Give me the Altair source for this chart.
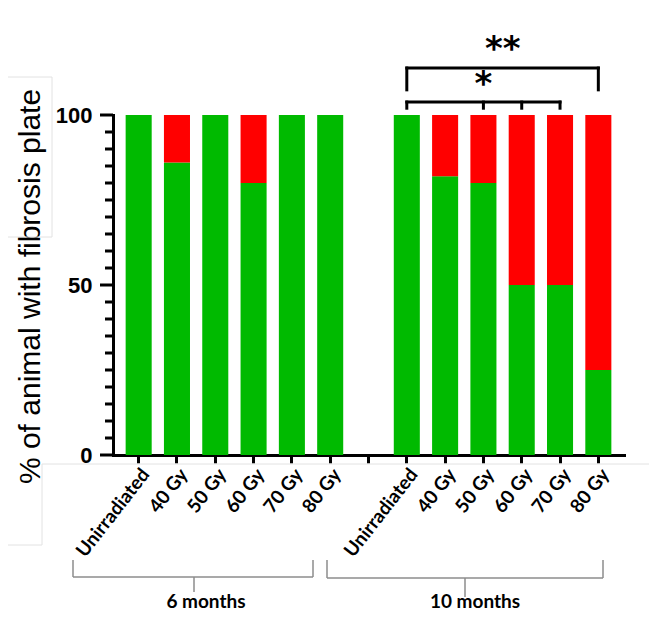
import altair as alt
import pandas as pd

# ---------------- data ----------------
doses = ["Unirradiated", "40 Gy", "50 Gy", "60 Gy", "70 Gy", "80 Gy"]
group_labels = ["6 months", "10 months"]
green_6m = [100, 86, 100, 80, 100, 100]     # % without fibrosis plate (green)
green_10m = [100, 82, 80, 50, 50, 25]
y_major = [0, 50, 100]
y_minor = [5, 10, 15, 20, 25, 30, 35, 40, 45, 55, 60, 65, 70, 75, 80, 85, 90, 95]

GREEN = "#00BA00"
RED = "#FF0000"

keys6 = ["6|" + d for d in doses]
keys10 = ["10|" + d for d in doses]
domain = keys6 + ["gap"] + keys10

rows = []
for k, g in zip(keys6 + keys10, green_6m + green_10m):
    rows.append({"key": k, "status": "no plate", "pct": g, "ord": 0})
    rows.append({"key": k, "status": "plate", "pct": 100 - g, "ord": 1})
df = pd.DataFrame(rows)

xscale = alt.Scale(domain=domain, paddingInner=0.32, paddingOuter=0.33)
yscale = alt.Scale(domain=[0, 100], nice=False, zero=True)

label_expr = "indexof(datum.value, '|') > 0 ? split(datum.value, '|')[1] : ''"

xaxis = alt.Axis(title=None, labelExpr=label_expr, labelAngle=-52,
                 labelAlign="right", labelBaseline="top",
                 labelFont="Lato", labelFontWeight="bold", labelFontSize=19,
                 labelColor="black", labelPadding=2, labelOverlap=False,
                 labelBound=False, labelFlush=False,
                 tickSize=8, tickWidth=3, tickColor="black",
                 domainWidth=3, domainColor="black", domainCap="square")
yaxis = alt.Axis(title="% of animal with fibrosis plate", values=y_major,
                 labelOverlap=False, grid=False, ticks=False,
                 domainWidth=3, domainColor="black", domainCap="square",
                 labelFont="Liberation Sans", labelFontWeight="bold",
                 labelFontSize=22, labelColor="black", labelPadding=21,
                 titleFont="Liberation Sans", titleFontWeight="normal",
                 titleFontSize=30, titleColor="black",
                 titleX=-83, titleY=171, titleAngle=-90,
                 titleAlign="center", titleBaseline="middle")

bars = alt.Chart(df).mark_bar().encode(
    x=alt.X("key:N", scale=xscale, sort=domain, axis=xaxis),
    y=alt.Y("pct:Q", stack="zero", scale=yscale, axis=yaxis),
    color=alt.Color("status:N", scale=alt.Scale(domain=["no plate", "plate"], range=[GREEN, RED]),
                    legend=None),
    order=alt.Order("ord:Q"),
)

# y ticks: major (long) and minor (short), one layer
tick_df = pd.DataFrame(
    [{"v": v, "x0": -13, "x1": 0} for v in y_major] +
    [{"v": v, "x0": -8, "x1": 0} for v in y_minor]
)
yticks = alt.Chart(tick_df).mark_rule(color="black", strokeWidth=3).encode(
    y=alt.Y("v:Q", scale=yscale, axis=yaxis),
    x=alt.X("x0:Q", scale=None), x2="x1",
)

# significance brackets
br = pd.DataFrame([
    {"x": "10|Unirradiated", "x2": "10|70 Gy", "y": 103.8, "y2": 103.8},
    {"x": "10|Unirradiated", "x2": "10|Unirradiated", "y": 102.0, "y2": 103.8},
    {"x": "10|50 Gy", "x2": "10|50 Gy", "y": 102.0, "y2": 103.8},
    {"x": "10|60 Gy", "x2": "10|60 Gy", "y": 102.0, "y2": 103.8},
    {"x": "10|70 Gy", "x2": "10|70 Gy", "y": 102.0, "y2": 103.8},
    {"x": "10|Unirradiated", "x2": "10|80 Gy", "y": 113.8, "y2": 113.8},
    {"x": "10|Unirradiated", "x2": "10|Unirradiated", "y": 107.4, "y2": 113.8},
    {"x": "10|80 Gy", "x2": "10|80 Gy", "y": 107.4, "y2": 113.8},
])
brackets = alt.Chart(br).mark_rule(color="black", strokeWidth=3, strokeCap="square").encode(
    x=alt.X("x:N", scale=xscale, sort=domain, axis=xaxis),
    x2="x2",
    y=alt.Y("y:Q", scale=yscale, axis=yaxis),
    y2="y2",
)

star1 = alt.Chart(pd.DataFrame([{"x": "10|50 Gy", "y": 106.0, "t": "*"}])).mark_text(
    font="DejaVu Sans", fontWeight="bold", fontSize=34, color="black",
    baseline="alphabetic", align="center").encode(
    x=alt.X("x:N", scale=xscale, sort=domain, axis=xaxis),
    y=alt.Y("y:Q", scale=yscale, axis=yaxis),
    text="t:N",
)
star2 = alt.Chart(pd.DataFrame([{"x": "10|60 Gy", "y": 116.2, "t": "**"}])).mark_text(
    font="DejaVu Sans", fontWeight="bold", fontSize=34, color="black",
    baseline="alphabetic", align="center", dx=-19).encode(
    x=alt.X("x:N", scale=xscale, sort=domain, axis=xaxis),
    y=alt.Y("y:Q", scale=yscale, axis=yaxis),
    text="t:N",
)

# group braces below the axis (decorations, pixel coordinates)
braces = pd.DataFrame([
    {"x": -40, "x2": 200, "y": 462, "y2": 462},
    {"x": -40, "x2": -40, "y": 445, "y2": 462},
    {"x": 200, "x2": 200, "y": 445, "y2": 462},
    {"x": 81, "x2": 81, "y": 462, "y2": 477},
    {"x": 214, "x2": 490, "y": 463, "y2": 463},
    {"x": 214, "x2": 214, "y": 445, "y2": 463},
    {"x": 490, "x2": 490, "y": 445, "y2": 463},
    {"x": 352, "x2": 352, "y": 463, "y2": 482},
])
brace_marks = alt.Chart(braces).mark_rule(color="#8c8c8c", strokeWidth=1.5).encode(
    x=alt.X("x:Q", scale=None), x2="x2",
    y=alt.Y("y:Q", scale=None), y2="y2",
)

grp = pd.DataFrame({"t": group_labels, "x": [93, 362], "y": [487, 487]})
grp_text = alt.Chart(grp).mark_text(font="Lato", fontWeight="bold", fontSize=19,
                                    color="black", baseline="middle", align="center").encode(
    x=alt.X("x:Q", scale=None), y=alt.Y("y:Q", scale=None), text="t:N",
)

# faint screenshot frame lines
faint = pd.DataFrame([
    {"x": -105, "x2": -61, "y": -38, "y2": -38},
    {"x": -61, "x2": -61, "y": -38, "y2": 122},
    {"x": -105, "x2": -61, "y": 122, "y2": 122},
    {"x": -71, "x2": 540, "y": 349, "y2": 349},
    {"x": -71, "x2": -71, "y": 349, "y2": 430},
    {"x": -105, "x2": -71, "y": 430, "y2": 430},
])
faint_marks = alt.Chart(faint).mark_rule(color="#e2e2e2", strokeWidth=1).encode(
    x=alt.X("x:Q", scale=None), x2="x2",
    y=alt.Y("y:Q", scale=None), y2="y2",
)

chart = alt.layer(faint_marks, bars, yticks, brackets, star1, star2,
                  brace_marks, grp_text).properties(
    width=511, height=340,
    autosize=alt.AutoSizeParams(type="none"),
    padding={"left": 105, "top": 107, "right": 25, "bottom": 159},
).configure_view(stroke=None)

chart.save("out.html", embed_options={"renderer": "svg", "actions": False})
